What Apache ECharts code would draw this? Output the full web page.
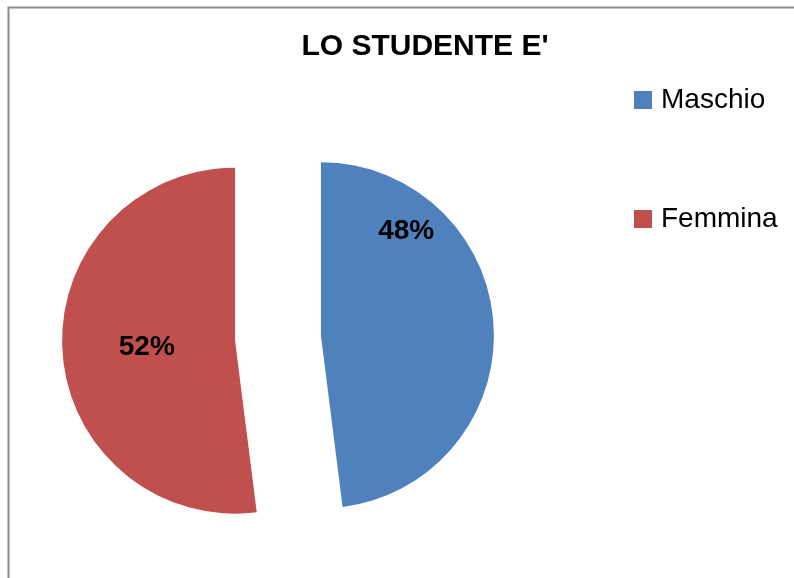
<!DOCTYPE html>
<html>
<head>
<meta charset="utf-8">
<script src="https://cdn.jsdelivr.net/npm/echarts@6/dist/echarts.min.js"></script>
<style>
  html, body { margin: 0; padding: 0; background: #ffffff; }
  #chart { width: 794px; height: 578px; }
</style>
</head>
<body>
<div id="chart"></div>
<script>
// Gender split of the students
const titleText = "LO STUDENTE E'";
const categories = ['Maschio', 'Femmina'];
const shares = [48, 52];
const colors = ['#4F81BD', '#C0504D'];

const chart = echarts.init(document.getElementById('chart'), null, { renderer: 'canvas' });

const pieData = categories.map((name, i) => ({
  name: name,
  value: shares[i],
  selected: true,
  itemStyle: { color: colors[i] }
}));

chart.setOption({
  animation: false,
  backgroundColor: '#ffffff',
  graphic: [{
    type: 'rect',
    left: 6, top: 5,
    shape: { x: 0, y: 0, width: 900, height: 900 },
    style: { fill: 'none', stroke: '#8c8c8c', lineWidth: 2 },
    silent: true,
    z: 0
  }],
  title: {
    text: titleText,
    left: 420,
    textAlign: 'center',
    top: 27,
    textStyle: {
      fontFamily: 'Liberation Sans, Arial, sans-serif',
      fontWeight: 'bold',
      fontSize: 30,
      color: '#000000'
    }
  },
  legend: {
    orient: 'vertical',
    left: 629,
    top: 81,
    itemWidth: 18,
    itemHeight: 18,
    itemGap: 91,
    icon: 'rect',
    selectedMode: false,
    data: categories,
    textStyle: {
      fontFamily: 'Liberation Sans, Arial, sans-serif',
      fontSize: 28,
      lineHeight: 28,
      color: '#000000',
      padding: [0, 0, 0, 4]
    }
  },
  series: [{
    type: 'pie',
    center: [278, 338],
    radius: 173,
    startAngle: 90,
    clockwise: true,
    selectedMode: 'multiple',
    selectedOffset: 43,
    avoidLabelOverlap: false,
    emphasis: { disabled: true },
    label: {
      show: true,
      position: 'inside',
      formatter: '{d}%',
      fontFamily: 'Liberation Sans, Arial, sans-serif',
      fontWeight: 'bold',
      fontSize: 28,
      color: '#000000'
    },
    labelLayout: function (params) {
      return params.dataIndex === 0 ? { dx: -4, dy: -98 } : { dx: 1, dy: 1 };
    },
    labelLine: { show: false },
    data: pieData
  }]
});
</script>
</body>
</html>
